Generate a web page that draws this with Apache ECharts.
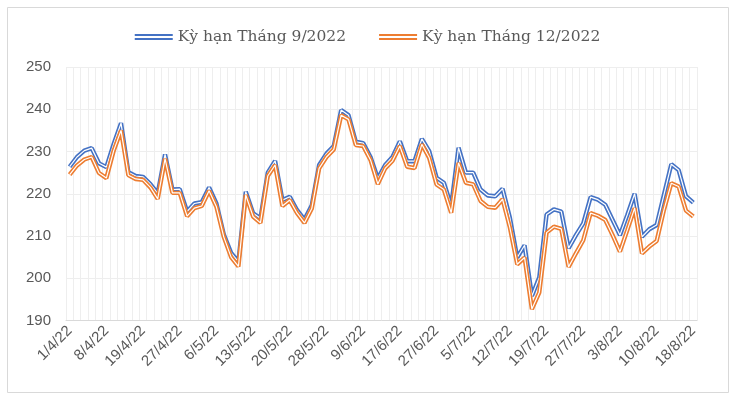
<!DOCTYPE html>
<html>
<head>
<meta charset="utf-8">
<script src="https://cdn.jsdelivr.net/npm/echarts@6/dist/echarts.min.js"></script>
<style>
	html, body {
		margin: 0;
		padding: 0;
		background: #fff;
	}
	#chart {
		width: 735px;
		height: 399px;
	}
</style>
</head>
<body>
<div id="chart"></div>
<script>
	// ngày giao dịch (nhãn hiện mỗi 5 phiên)
	let dates = [
		'1/4/22', '4/4/22', '5/4/22', '6/4/22', '7/4/22',
		'8/4/22', '12/4/22', '13/4/22', '14/4/22', '18/4/22',
		'19/4/22', '20/4/22', '21/4/22', '22/4/22', '25/4/22',
		'27/4/22', '28/4/22', '29/4/22', '4/5/22', '5/5/22',
		'6/5/22', '9/5/22', '10/5/22', '11/5/22', '12/5/22',
		'13/5/22', '16/5/22', '17/5/22', '18/5/22', '19/5/22',
		'20/5/22', '23/5/22', '24/5/22', '25/5/22', '26/5/22',
		'28/5/22', '31/5/22', '1/6/22', '3/6/22', '7/6/22',
		'9/6/22', '10/6/22', '13/6/22', '14/6/22', '15/6/22',
		'17/6/22', '20/6/22', '21/6/22', '22/6/22', '23/6/22',
		'27/6/22', '28/6/22', '29/6/22', '30/6/22', '1/7/22',
		'5/7/22', '6/7/22', '7/7/22', '8/7/22', '11/7/22',
		'12/7/22', '13/7/22', '14/7/22', '15/7/22', '18/7/22',
		'19/7/22', '20/7/22', '21/7/22', '22/7/22', '25/7/22',
		'27/7/22', '28/7/22', '29/7/22', '1/8/22', '2/8/22',
		'3/8/22', '4/8/22', '5/8/22', '8/8/22', '9/8/22',
		'10/8/22', '11/8/22', '12/8/22', '15/8/22', '16/8/22',
		'18/8/22'
	];

	let seriesNames = ['Kỳ hạn Tháng 9/2022', 'Kỳ hạn Tháng 12/2022'];

	let kyHan9 = [
		226.4, 228.7, 230.2, 230.8, 227.2, 226.3, 231.8, 236.7, 225.1, 224.2,
		224.0, 222.3, 220.1, 229.3, 221.0, 221.1, 215.8, 217.7, 218.0, 221.5,
		217.7, 210.4, 206.0, 203.9, 220.5, 215.4, 214.2, 225.0, 227.8, 218.5,
		219.3, 216.1, 213.9, 217.3, 226.8, 229.5, 231.3, 239.8, 238.6, 232.3,
		232.0, 228.7, 223.6, 226.8, 228.7, 232.4, 227.7, 227.7, 233.0, 230.1,
		223.8, 222.6, 217.1, 230.9, 225.0, 225.0, 221.0, 219.6, 219.4, 221.2,
		214.3, 204.9, 207.8, 195.8, 200.2, 215.1, 216.3, 215.8, 207.1, 210.2,
		213.0, 219.2, 218.6, 217.4, 213.8, 210.2, 215.0, 220.0, 209.8, 211.6,
		212.6, 219.8, 227.0, 225.6, 219.4, 217.9
	];

	let kyHan12 = [
		224.5, 226.7, 228.1, 228.7, 224.9, 223.7, 230.2, 235.0, 224.4, 223.5,
		223.3, 221.5, 218.8, 228.3, 220.2, 220.2, 214.7, 216.6, 217.1, 220.7,
		216.9, 209.8, 205.0, 202.8, 219.7, 214.6, 213.1, 224.2, 226.8, 217.1,
		218.5, 215.4, 213.1, 216.5, 226.0, 228.7, 230.5, 238.6, 237.6, 231.5,
		231.3, 228.0, 222.3, 226.0, 227.8, 231.3, 226.4, 226.1, 231.7, 228.5,
		222.2, 221.0, 215.5, 227.3, 222.6, 222.2, 218.3, 216.9, 216.7, 218.7,
		212.0, 203.3, 204.9, 192.7, 196.6, 210.8, 212.2, 211.7, 202.7, 205.9,
		209.0, 215.4, 214.8, 213.8, 210.2, 206.3, 211.4, 216.6, 205.9, 207.5,
		208.8, 216.2, 222.5, 221.7, 216.0, 214.6
	];

	let colors = ['#4472C4', '#ED7D31'];

	// đường đôi kiểu Excel: nét màu dày + nét trắng mảnh ở giữa
	let series = [];
	[kyHan9, kyHan12].forEach((data, index) => {
		series.push({
			name: seriesNames[index],
			type: 'line',
			data: data,
			showSymbol: false,
			color: colors[index],
			lineStyle: {
				color: colors[index],
				width: 4.4
			},
			emphasis: {
				disabled: true
			},
			z: 2 + index * 2
		});
		series.push({
			name: seriesNames[index] + ' (giữa)',
			type: 'line',
			data: data,
			showSymbol: false,
			silent: true,
			lineStyle: {
				color: '#ffffff',
				width: 1.2
			},
			emphasis: {
				disabled: true
			},
			z: 3 + index * 2
		});
	});

	let option = {
		animation: false,
		backgroundColor: '#ffffff',
		graphic: [{
			type: 'rect',
			shape: {
				x: 7.5,
				y: 7.5,
				width: 721,
				height: 385
			},
			style: {
				fill: 'none',
				stroke: '#d9d9d9',
				lineWidth: 1
			},
			silent: true
		}],
		legend: {
			data: seriesNames,
			top: 24,
			left: 'center',
			itemWidth: 38,
			itemHeight: 6,
			itemGap: 33,
			icon: 'path://M0,0H38V2H0Z M0,4H38V6H0Z',
			textStyle: {
				color: '#595959',
				fontFamily: 'DejaVu Serif',
				fontSize: 15.5,
				padding: [0, 0, 0, 0]
			}
		},
		grid: {
			left: 66,
			right: 38,
			top: 67,
			bottom: 78.5,
			containLabel: false
		},
		xAxis: {
			type: 'category',
			data: dates,
			boundaryGap: true,
			axisLine: {
				show: true,
				lineStyle: {
					color: '#d9d9d9',
					width: 1
				}
			},
			axisTick: {
				show: false
			},
			splitLine: {
				show: true,
				interval: 0,
				lineStyle: {
					color: '#eeeeee',
					width: 1
				}
			},
			axisLabel: {
				interval: 4,
				rotate: 45,
				margin: 8,
				color: '#595959',
				fontFamily: 'Liberation Sans',
				fontSize: 15
			}
		},
		yAxis: {
			type: 'value',
			min: 190,
			max: 250,
			interval: 10,
			axisLine: {
				show: false
			},
			axisTick: {
				show: false
			},
			splitLine: {
				show: true,
				lineStyle: {
					color: '#eeeeee',
					width: 1
				}
			},
			axisLabel: {
				margin: 15,
				color: '#595959',
				fontFamily: 'Liberation Sans',
				fontSize: 15
			}
		},
		series: series
	};

	let chart = echarts.init(document.getElementById('chart'));
	chart.setOption(option);
	window.addEventListener('resize', function () {
		chart.resize();
	});
</script>
</body>
</html>
